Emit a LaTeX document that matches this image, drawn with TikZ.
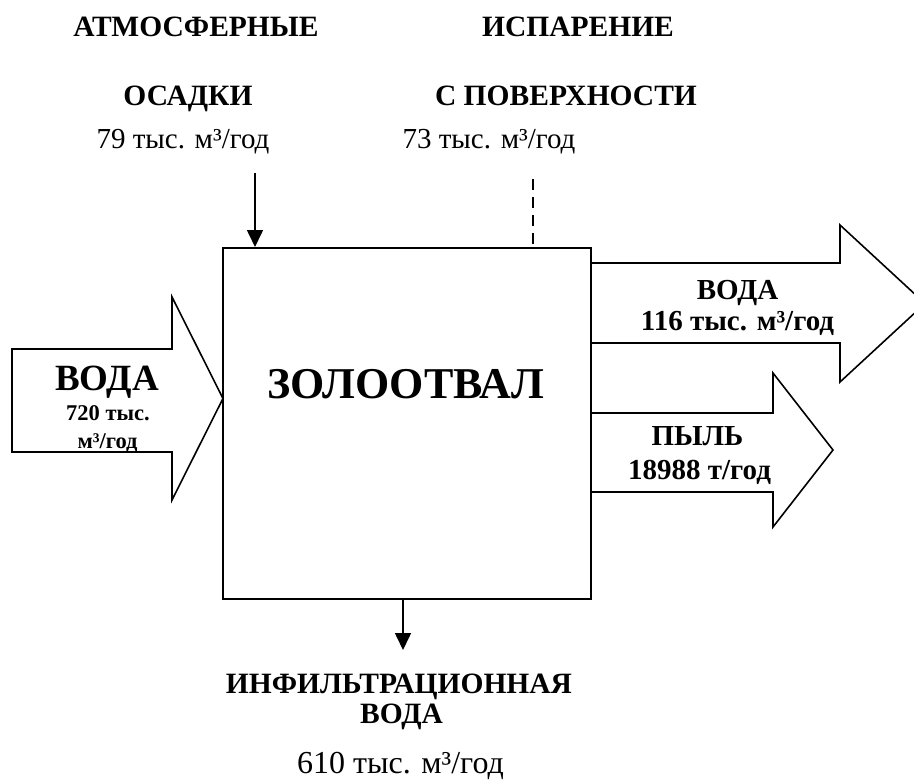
\documentclass[tikz,border=0pt]{standalone}
\usepackage{fontspec}
\setmainfont{Liberation Serif}
\usetikzlibrary{arrows.meta}
\begin{document}
\begin{tikzpicture}[x=1pt, y=-1pt,
    dump/.style = {rectangle, draw, line width=2pt, minimum width=368pt, minimum height=351pt},
    block/.style = {draw, line width=1.6pt, line join=miter},
    flow/.style = {line width=1.6pt, -{Triangle[width=16pt, length=17pt]}},
    heading/.style = {anchor=base, inner sep=0pt, font=\fontsize{29.5}{31}\selectfont\bfseries},
    amount/.style = {anchor=base, inner sep=0pt, font=\fontsize{29}{31}\selectfont},
    arrowtext/.style = {anchor=base, inner sep=0pt, font=\fontsize{29}{31}\selectfont\bfseries}]
  \useasboundingbox (0, 0) rectangle (914, 782);

  % Ash dump.
  \node at (407, 423.5) [dump, name=Dump] {};
  \node at (406, 398) [anchor=base, inner sep=0pt, font=\fontsize{44}{48}\selectfont\bfseries, name=DumpTitle] {ЗОЛООТВАЛ};

  % Incoming water.
  \draw [block] (12, 349) -- (172, 349) -- (172, 297) -- (223, 398.5)
                -- (172, 500) -- (172, 452) -- (12, 452) -- cycle;
  \node at (107, 390) [anchor=base, inner sep=0pt, font=\fontsize{37}{40}\selectfont\bfseries, name=InWater] {ВОДА};
  \node at (108, 420) [anchor=base, inner sep=0pt, font=\fontsize{22.5}{24}\selectfont\bfseries, name=InWaterValue] {720 тыс.};
  \node at (107.5, 448) [anchor=base, inner sep=0pt, font=\fontsize{22.5}{24}\selectfont\bfseries, name=InWaterUnit] {м³/год};

  % Outgoing water and dust.
  \draw [block] (591, 263) -- (840, 263) -- (840, 225) -- (925, 303.5)
                -- (840, 382) -- (840, 343) -- (591, 343);
  \node at (737.5, 299) [arrowtext, name=OutWater] {ВОДА};
  \node at (737.5, 330) [arrowtext, name=OutWaterValue] {116 тыс. м³/год};
  \draw [block] (591, 413) -- (773, 413) -- (773, 373) -- (833, 450)
                -- (773, 527) -- (773, 492) -- (591, 492);
  \node at (697.5, 445) [arrowtext, name=Dust] {ПЫЛЬ};
  \node at (699.5, 479) [arrowtext, name=DustValue] {18988 т/год};

  % Precipitation.
  \node at (196, 36) [heading, name=Precip] {АТМОСФЕРНЫЕ};
  \node at (188, 105) [heading, name=PrecipSecond] {ОСАДКИ};
  \node at (183, 148) [amount, name=PrecipValue] {79 тыс. м³/год};
  \coordinate (PrecipStart) at (255, 173);
  \draw [flow] (PrecipStart) -- (PrecipStart |- Dump.north);

  % Evaporation.
  \node at (578, 36) [heading, name=Evap] {ИСПАРЕНИЕ};
  \node at (566, 105) [heading, name=EvapSecond] {С ПОВЕРХНОСТИ};
  \node at (489, 148) [amount, name=EvapValue] {73 тыс. м³/год};
  \coordinate (EvapStart) at (533, 179);
  \draw [line width=1.6pt, dash pattern=on 11pt off 7pt] (EvapStart) -- (EvapStart |- Dump.north);

  % Infiltration.
  \coordinate (InfilEnd) at (403, 650);
  \draw [flow] (InfilEnd |- Dump.south) -- (InfilEnd);
  \node at (399, 693) [heading, name=Infil] {ИНФИЛЬТРАЦИОННАЯ};
  \node at (401.5, 723) [heading, name=InfilSecond] {ВОДА};
  \node at (400.5, 773) [amount, font=\fontsize{32}{34}\selectfont, name=InfilValue] {610 тыс. м³/год};
\end{tikzpicture}
\end{document}
